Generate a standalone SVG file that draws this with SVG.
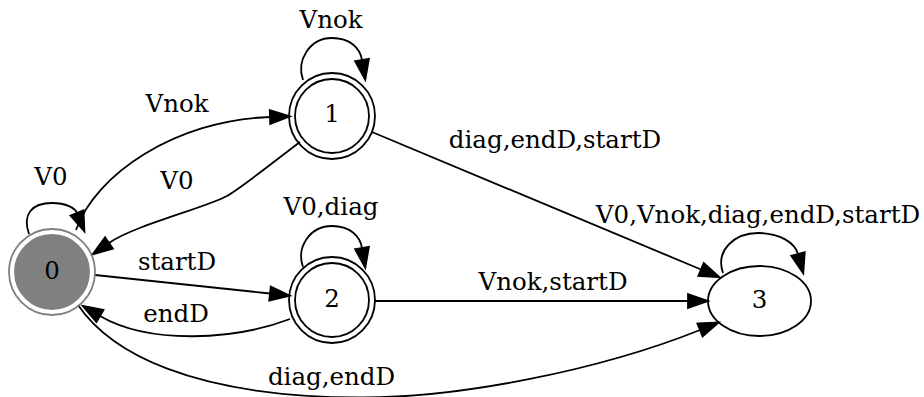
<svg xmlns="http://www.w3.org/2000/svg" width="924" height="397" viewBox="0 0 924 397">
<style>
.e{fill:none;stroke:#000;stroke-width:1.8;marker-end:url(#a)}
.n{fill:none;stroke:#000;stroke-width:1.8}
.g{fill:none;stroke:#808080;stroke-width:1.8}
.gf{fill:#808080;stroke:#808080;stroke-width:1.8}
text{font-family:"DejaVu Serif","Liberation Serif",serif;font-size:24.5px;text-anchor:middle;fill:#000}
</style>
<defs>
<marker id="a" markerUnits="userSpaceOnUse" markerWidth="20" markerHeight="14" refX="0" refY="7" orient="auto" overflow="visible"><path d="M0,0L20,7L0,14z" fill="#000" stroke="#000" stroke-width="1.8"/></marker>
</defs>
<rect width="924" height="397" fill="#fff"/>
<g id="edges">
<g id="e0_0"><path class="e" d="M29,234 C22,214 32,203 52,203 C66,203 75,208 77,213"/><text x="51" y="185">V0</text></g>
<g id="e0_1"><path class="e" d="M76,230 C95,175 175,120 270,117"/><text x="177" y="112">Vnok</text></g>
<g id="e1_0"><path class="e" d="M300,142 C276,160 245,185 227,196 C205,208 135,225 109,243"/><text x="177" y="189">V0</text></g>
<g id="e1_1"><path class="e" d="M303,80 C296,60 310,38 332,38 C350,38 360,48 362,60"/><text x="331" y="28">Vnok</text></g>
<g id="e0_2"><path class="e" d="M95,275 L270,293.5"/><text x="177" y="270">startD</text></g>
<g id="e2_0"><path class="e" d="M290,319 C235,340 150,345 100,316"/><text x="176" y="322">endD</text></g>
<g id="e2_2"><path class="e" d="M303,267 C296,247 310,226 332,226 C350,226 360,236 362,248"/><text x="331" y="215">V0,diag</text></g>
<g id="e0_3"><path class="e" d="M78,305 C110,352 190,397 360,397.5 C460,398 600,370 700,330"/><text x="331.5" y="385">diag,endD</text></g>
<g id="e1_3"><path class="e" d="M372,132 L701,269.5"/><text x="555" y="148">diag,endD,startD</text></g>
<g id="e2_3"><path class="e" d="M375,301 L688,301"/><text x="553" y="290">Vnok,startD</text></g>
<g id="e3_3"><path class="e" d="M723,273 C715,250 735,233 758,233 C780,233 795,243 798,254"/><text x="758" y="223">V0,Vnok,diag,endD,startD</text></g>
</g>
<g id="n0"><circle class="g" cx="52" cy="272" r="43"/><circle class="gf" cx="52" cy="272" r="37"/><text x="52" y="279">0</text></g>
<g id="n1"><circle class="n" cx="332" cy="116" r="43"/><circle class="n" cx="332" cy="116" r="37"/><text x="332" y="122">1</text></g>
<g id="n2"><circle class="n" cx="332" cy="300" r="43"/><circle class="n" cx="332" cy="300" r="37"/><text x="332" y="307">2</text></g>
<g id="n3"><ellipse class="n" cx="759.5" cy="301" rx="51.5" ry="35"/><text x="759.5" y="308">3</text></g>
</svg>
